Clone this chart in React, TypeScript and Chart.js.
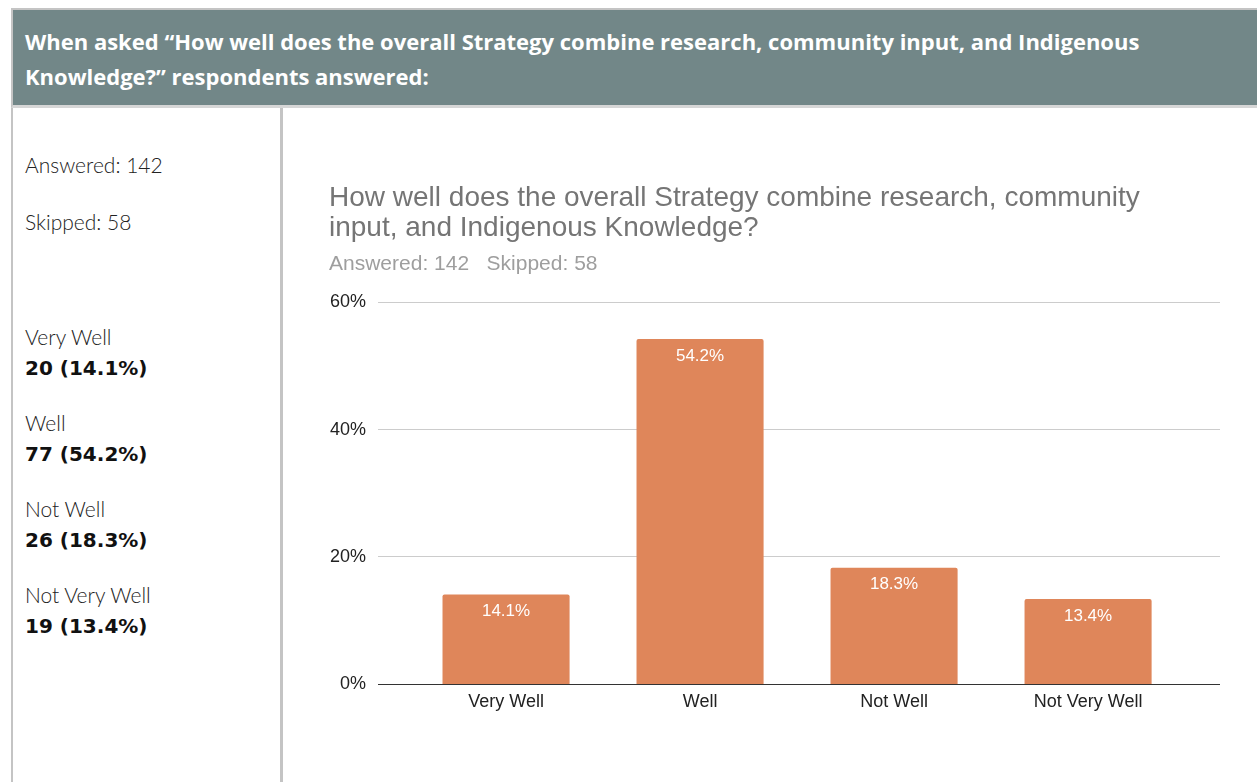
import React, { useEffect, useRef } from "react";
import { Chart, registerables } from "chart.js";

Chart.register(...registerables);

const categories = ["Very Well", "Well", "Not Well", "Not Very Well"];
const percents = [14.1, 54.2, 18.3, 13.4];
const counts = [20, 77, 26, 19];
const yTicks = [0, 20, 40, 60];
const answered = 142;
const skipped = 58;
const headerLines = [
  "When asked \u201cHow well does the overall Strategy combine research, community input, and Indigenous",
  "Knowledge?\u201d respondents answered:",
];
const chartTitle = [
  "How well does the overall Strategy combine research, community",
  "input, and Indigenous Knowledge?",
];

const BAR_COLOR = "#df865a";
const FONT = "Arial, 'Liberation Sans', sans-serif";

const valueLabels = {
  id: "valueLabels",
  afterDatasetsDraw(chart: any) {
    const ctx = chart.ctx;
    const meta = chart.getDatasetMeta(0);
    ctx.save();
    ctx.fillStyle = "#ffffff";
    ctx.font = "17px " + FONT;
    ctx.textAlign = "center";
    ctx.textBaseline = "middle";
    meta.data.forEach((bar: any, i: number) => {
      ctx.fillText(percents[i].toFixed(1) + "%", bar.x, bar.y + 17);
    });
    ctx.restore();
  },
};

function BarChart() {
  const ref = useRef<HTMLCanvasElement>(null);
  useEffect(() => {
    if (!ref.current) return;
    const chart = new Chart(ref.current, {
      type: "bar",
      data: {
        datasets: [
          {
            data: percents.map((v, i) => ({ x: i, y: v })),
            backgroundColor: BAR_COLOR,
            borderRadius: 2,
            barPercentage: 0.655,
            categoryPercentage: 1,
          },
        ],
      },
      plugins: [valueLabels],
      options: {
        animation: false,
        responsive: false,
        maintainAspectRatio: false,
        layout: { padding: { left: 46, right: 37, top: 62, bottom: 62 } },
        plugins: {
          legend: { display: false },
          tooltip: { enabled: false },
          title: {
            display: true,
            text: chartTitle,
            align: "start",
            color: "#757575",
            font: { family: FONT, size: 28, weight: "normal", lineHeight: 30 / 28 },
            padding: { top: 13, bottom: 4 },
          },
          subtitle: {
            display: true,
            text: "Answered: " + answered + "   Skipped: " + skipped,
            align: "start",
            color: "#9e9e9e",
            font: { family: FONT, size: 21, weight: "normal", lineHeight: 1.1 },
            padding: { top: 6, bottom: 26 },
          },
        },
        scales: {
          x: {
            type: "linear",
            offset: false,
            min: -0.66,
            max: 3.68,
            afterBuildTicks: (axis: any) => {
              axis.ticks = categories.map((_, i) => ({ value: i }));
            },
            grid: { display: false, drawTicks: false, offset: false },
            border: { display: false },
            ticks: {
              padding: 7,
              color: "#222222",
              font: { family: FONT, size: 18 },
              maxRotation: 0,
              autoSkip: false,
              callback: (v: any) => categories[v as number] ?? "",
            },
          },
          y: {
            min: 0,
            max: 60,
            afterBuildTicks: (axis: any) => {
              axis.ticks = yTicks.map((v) => ({ value: v }));
            },
            afterFit: (axis: any) => {
              axis.width = 49;
            },
            grid: {
              drawTicks: false,
              color: (c: any) => (c.tick && c.tick.value === 0 ? "#333333" : "#cccccc"),
              lineWidth: 1,
            },
            border: { display: false },
            ticks: {
              padding: 12,
              color: "#222222",
              font: { family: FONT, size: 18 },
              callback: (v: any) => v + "%",
            },
          },
        },
      },
    } as any);
    return () => chart.destroy();
  }, []);
  return <canvas ref={ref} width={974} height={674} style={{ display: "block", width: 974, height: 674 }} />;
}

export default function App() {
  const leftFont = "Lato, 'Open Sans', sans-serif";
  const item = (label: string, i: number, top: number) => (
    <div key={label} style={{ position: "absolute", left: 25, top }}>
      <div style={{ fontSize: 21, fontWeight: 300, color: "#222", lineHeight: "30px", whiteSpace: "nowrap", fontFamily: leftFont }}>{label}</div>
      <div style={{ fontSize: 20, fontWeight: 700, color: "#111", lineHeight: "32px", whiteSpace: "nowrap", fontFamily: "'DejaVu Sans', sans-serif" }}>
        {counts[i]} ({percents[i].toFixed(1)}%)
      </div>
    </div>
  );
  return (
    <div style={{ position: "fixed", left: 0, top: 0, width: 1257, height: 782, overflow: "hidden", background: "#fff", fontFamily: leftFont }}>
      <div
        style={{
          position: "absolute",
          left: 11,
          top: 8,
          width: 1300,
          height: 95,
          background: "#728788",
          borderTop: "2px solid #c4c4c4",
          borderLeft: "2px solid #c4c4c4",
          borderBottom: "3px solid #d6d6d6",
        }}
      >
        <div
          style={{
            position: "absolute",
            left: 12,
            top: 14,
            color: "#ffffff",
            fontSize: 22,
            fontWeight: 700,
            lineHeight: "35px",
            whiteSpace: "nowrap",
            fontFamily: "'Open Sans', sans-serif",
          }}
        >
          {headerLines.map((l) => (
            <div key={l}>{l}</div>
          ))}
        </div>
      </div>
      <div style={{ position: "absolute", left: 11, top: 108, width: 2, height: 680, background: "#c4c4c4" }} />
      <div style={{ position: "absolute", left: 280, top: 108, width: 3, height: 680, background: "#c4c4c4" }} />
      <div style={{ position: "absolute", left: 25, top: 150, fontSize: 21, fontWeight: 300, color: "#222", lineHeight: "30px" }}>
        Answered: {answered}
      </div>
      <div style={{ position: "absolute", left: 25, top: 207, fontSize: 21, fontWeight: 300, color: "#222", lineHeight: "30px" }}>
        Skipped: {skipped}
      </div>
      {categories.map((c, i) => item(c, i, 322 + i * 86))}
      <div style={{ position: "absolute", left: 283, top: 108 }}>
        <BarChart />
      </div>
    </div>
  );
}
